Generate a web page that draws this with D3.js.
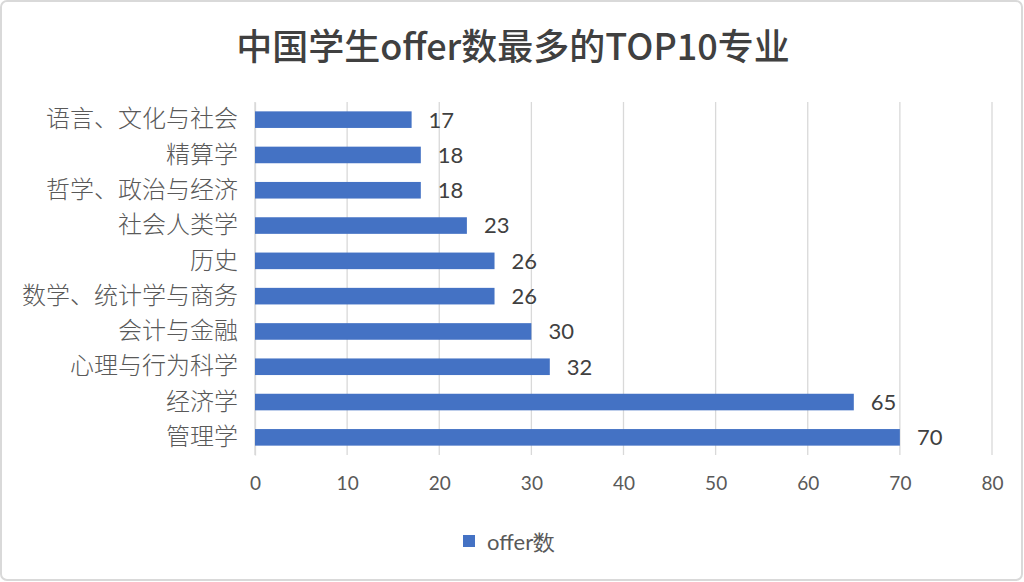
<!DOCTYPE html>
<html><head><meta charset="utf-8">
<script src="https://cdn.jsdelivr.net/npm/d3@7/dist/d3.min.js"></script>
<style>body{margin:0;background:#fff;}svg{display:block;}</style>
</head><body><svg id="c" width="1024" height="582"></svg>
<script>
const categories = ["语言、文化与社会","精算学","哲学、政治与经济","社会人类学","历史","数学、统计学与商务","会计与金融","心理与行为科学","经济学","管理学"];
const values = [17,18,18,23,26,26,30,32,65,70];
const ticks = [0,10,20,30,40,50,60,70,80];
const seriesName = "offer数";
const title = "中国学生offer数最多的TOP10专业";

const svg = d3.select("#c");
svg.append("rect").attr("x",1).attr("y",1).attr("width",1021).attr("height",579).attr("rx",6)
  .attr("fill","#fff").attr("stroke","#d9d9d9").attr("stroke-width",2);

const x = d3.scaleLinear().domain([0,80]).range([255,992]);
const y = d3.scaleBand().domain(categories).range([102,455]).paddingInner(0.53).paddingOuter(0.265);

svg.append("g").selectAll("line").data(ticks).join("line")
  .attr("x1",d=>x(d)).attr("x2",d=>x(d)).attr("y1",102).attr("y2",455)
  .attr("stroke","#d9d9d9").attr("stroke-width",1.3);

const numFont = "Lato, 'Noto Sans', sans-serif";
const cjkFont = "'Noto Sans CJK SC', sans-serif";

const xa = svg.append("g").attr("transform","translate(0,455)").call(d3.axisBottom(x).tickValues(ticks).tickSize(0).tickPadding(22));
xa.select(".domain").remove();
xa.selectAll("text").attr("font-family",numFont).attr("font-size",19).attr("fill","#595959");

const ya = svg.append("g").attr("transform","translate(255,0)").call(d3.axisLeft(y).tickSize(0).tickPadding(17));
ya.select(".domain").attr("stroke","#d9d9d9").attr("stroke-width",1.3);
ya.selectAll("text").attr("font-family",cjkFont).attr("font-size",24).attr("font-weight",300).attr("fill","#595959");

svg.append("g").selectAll("rect").data(values).join("rect")
  .attr("x",x(0)).attr("y",(d,i)=>y(categories[i]))
  .attr("width",d=>x(d)-x(0)).attr("height",y.bandwidth()).attr("fill","#4472c4");

svg.append("g").selectAll("text").data(values).join("text")
  .attr("x",d=>x(d)+17).attr("y",(d,i)=>y(categories[i])+y.bandwidth()/2)
  .attr("dy","0.36em").attr("font-family",numFont).attr("font-size",22).attr("fill","#404040").text(d=>d);

svg.append("text").attr("x",513).attr("y",60).attr("text-anchor","middle")
  .attr("font-family",cjkFont).attr("font-weight",500).attr("font-size",36).attr("fill","#404040").text(title);

svg.append("rect").attr("x",463).attr("y",535).attr("width",12).attr("height",12).attr("fill","#4472c4");
svg.append("text").attr("x",487).attr("y",542).attr("dy","0.36em").attr("font-family",numFont).attr("font-size",22).attr("fill","#595959").text(seriesName);
</script></body></html>
